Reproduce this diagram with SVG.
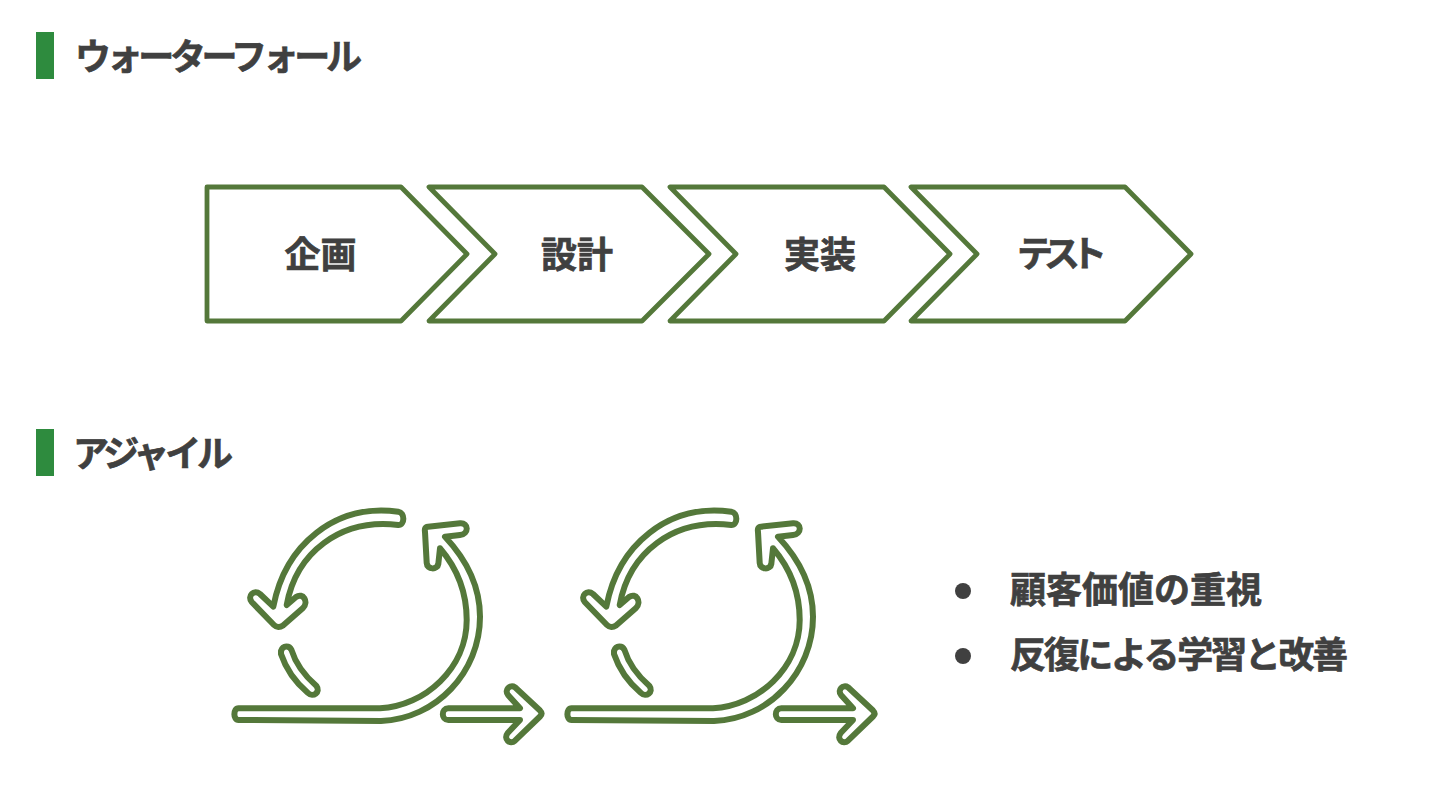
<svg xmlns="http://www.w3.org/2000/svg" width="1440" height="810" viewBox="0 0 1440 810">
<style>
text{font-family:"Noto Sans CJK JP","Noto Sans",sans-serif;font-weight:700;fill:#404040;stroke:#404040;stroke-width:.7}
.h{font-size:36px}
.l{font-size:36px;text-anchor:middle}
.b{font-size:36px}
.bar{fill:#2e8b3e}
.c{fill:#fff;stroke:#54783a;stroke-width:4.8;stroke-linejoin:round}
.i{fill:#fff;stroke:#54783a;stroke-width:6;stroke-linejoin:round;stroke-linecap:round}
</style>
<defs>
<g id="loop">
<path class="i" d="M238.500 708.300C233 708.300 233 720 238.500 720L381 721C436 719 480 672 480 616.700C480 585 465 558 445 536.700L460 535C469 534 469 522.500 460 523.300L428 526.700C425 527 424.500 529 425 532L426.700 563C427 570 437.500 570 438.300 564L440 548.300C456 567 466.700 590 466.700 620C466.700 668 425 706 380 708.300Z"/>
<path class="i" d="M398.300 525C405 525 405 512.500 398.300 511.700C335 503 285 545 273.300 606.700L260 594C254 589 247 596 251.700 602L274 625C276.500 627.500 280 627.500 283 625.500L303 608C309 602 303 592 296 597L286.700 605C296 553 340 518 398.300 525Z"/>
<path class="i" d="M281 651C283 645 289.500 645.500 291.500 650C296 665 305 676 316.500 686C321 692 313 698 308 693C295 682 286 669 281 654Z"/>
<path class="i" d="M448.300 708.300C441 708.300 441 720 448.300 720H520L507.700 733C503 739 510 745 515 740.700L540 716.500C542 714.500 542 712.500 540 710.500L515 687.300C510 684 504 690 508 695L520 708.300Z"/>
</g>
</defs>
<g id="header-waterfall">
<rect class="bar" x="36" y="32" width="18" height="47"/>
<text class="h" x="75" y="70" textLength="287" lengthAdjust="spacing">ウォーターフォール</text>
</g>
<g id="step-plan">
<path class="c" d="M207 187H401L467 254L401 321H207Z"/>
<text class="l" x="320.500" y="268">企画</text>
</g>
<g id="step-design">
<path class="c" d="M429 187H642L709 254L642 321H429L495 254Z"/>
<text class="l" x="577" y="268">設計</text>
</g>
<g id="step-build">
<path class="c" d="M670 187H884L950 254L884 321H670L736 254Z"/>
<text class="l" x="820" y="268">実装</text>
</g>
<g id="step-test">
<path class="c" d="M911 187H1125L1191 254L1125 321H911L977 254Z"/>
<text class="l" x="1062" y="267" textLength="90" lengthAdjust="spacing">テスト</text>
</g>
<g id="header-agile">
<rect class="bar" x="36" y="429" width="18" height="47"/>
<text class="h" x="73" y="467" textLength="160" lengthAdjust="spacing">アジャイル</text>
</g>
<g id="loop-1"><use href="#loop"/></g>
<g id="loop-2"><use href="#loop" x="333"/></g>
<g id="bullets">
<circle cx="963" cy="591" r="8" fill="#404040"/>
<circle cx="963" cy="656" r="8" fill="#404040"/>
<text class="b" x="1010" y="603">顧客価値の重視</text>
<text class="b" x="1010" y="668" textLength="338" lengthAdjust="spacing">反復による学習と改善</text>
</g>
</svg>
